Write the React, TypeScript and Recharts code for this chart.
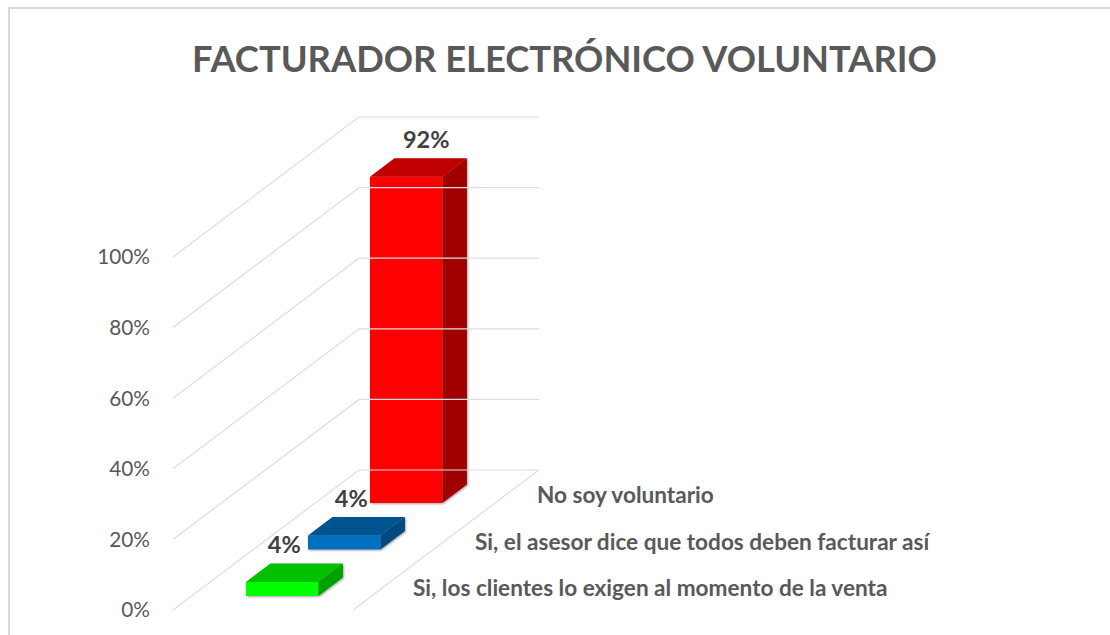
import React from "react";
import { BarChart, Bar, XAxis, YAxis, ReferenceLine, LabelList } from "recharts";

const chartTitle = "FACTURADOR ELECTRÓNICO VOLUNTARIO";
const categories = [
  "Si, los clientes lo exigen al momento de la venta",
  "Si, el asesor dice que todos deben facturar así",
  "No soy voluntario",
];
const percentValues = [4, 4, 92.4];
const yTicks = [0, 20, 40, 60, 80, 100];
const frontColors = ["#00ff00", "#0070c0", "#ff0000"];
const topColors = ["#00c000", "#005490", "#c00000"];
const sideColors = ["#00a000", "#004a80", "#a00000"];

const rows = categories.map((name, i) => ({ name, value: percentValues[i] }));

const FONT = "Lato, 'Open Sans', sans-serif";
const FRONT_W = 72.5;
const DEPTH_X = 24.5;
const DEPTH_Y = 18.5;
const FLOOR_BASE = 14;
const FLOOR_STEP = 46.5;
const WALL_X = 186;
const WALL_Y = 140;
const WALL_W = 180;
const LABEL_DX = [2, 7, 20];

function gridShape(props: any) {
  const x = props.x1;
  const y = props.y1;
  return (
    <polyline
      points={`${x},${y} ${x + WALL_X},${y - WALL_Y} ${x + WALL_X + WALL_W},${y - WALL_Y}`}
      fill="none"
      stroke="#dedede"
      strokeWidth={1.2}
    />
  );
}

function floorShape(props: any) {
  const x = props.x1;
  const y = props.y1;
  return (
    <line
      x1={x + WALL_W}
      y1={y}
      x2={x + WALL_W + WALL_X}
      y2={y - WALL_Y}
      stroke="#dedede"
      strokeWidth={1.2}
    />
  );
}

function barShape(props: any) {
  const { x, width, y, height, index } = props;
  const lift = FLOOR_BASE + index * FLOOR_STEP;
  const cx = x + width / 2;
  const l = cx - FRONT_W / 2;
  const r = cx + FRONT_W / 2;
  const t = y - lift;
  const b = y + height - lift;
  return (
    <g style={{ filter: "drop-shadow(1px 1px 1px rgba(0,0,0,0.35))" }}>
      <rect x={l} y={t} width={FRONT_W} height={b - t} fill={frontColors[index]} />
      <polygon
        points={`${l},${t} ${l + DEPTH_X},${t - DEPTH_Y} ${r + DEPTH_X},${t - DEPTH_Y} ${r},${t}`}
        fill={topColors[index]}
      />
      <polygon
        points={`${r},${t} ${r + DEPTH_X},${t - DEPTH_Y} ${r + DEPTH_X},${b - DEPTH_Y} ${r},${b}`}
        fill={sideColors[index]}
      />
    </g>
  );
}

function dataLabel(props: any) {
  const { x, width, y, index, value } = props;
  const lift = FLOOR_BASE + index * FLOOR_STEP;
  return (
    <text
      x={x + width / 2 + LABEL_DX[index]}
      y={y - lift - 28.5}
      textAnchor="middle"
      fontFamily={FONT}
      fontWeight={700}
      fontSize={23.5}
      fill="#404040"
    >
      {`${Math.round(value)}%`}
    </text>
  );
}

function categoryTick(props: any) {
  const { x, y, payload, index } = props;
  const i = index ?? payload.index;
  return (
    <text
      x={x + 131}
      y={y - 22 - i * FLOOR_STEP}
      fontFamily={FONT}
      fontWeight={700}
      fontSize={22.6}
      fill="#595959"
    >
      {payload.value}
    </text>
  );
}

export default function App() {
  return (
    <div
      style={{
        position: "absolute",
        left: 0,
        top: 0,
        width: 1110,
        height: 635,
        background: "#fff",
        overflow: "hidden",
      }}
    >
      <div
        style={{
          position: "absolute",
          left: 8,
          top: 7,
          width: 1140,
          height: 680,
          border: "2px solid #d9d9d9",
          boxSizing: "border-box",
        }}
      />
      <div
        style={{
          position: "absolute",
          left: 0,
          top: 35,
          width: 1129,
          textAlign: "center",
          fontFamily: FONT,
          fontWeight: 700,
          fontSize: 36.3,
          lineHeight: "46px",
          color: "#595959",
        }}
      >
        {chartTitle}
      </div>
      <div style={{ position: "absolute", left: 0, top: 0 }}>
        <BarChart
          width={1110}
          height={635}
          data={rows}
          margin={{ top: 257, right: 673, bottom: 0, left: 0 }}
          style={{ overflow: "visible" }}
        >
          <XAxis
            dataKey="name"
            type="category"
            height={25}
            padding={{ left: 78, right: 0 }}
            axisLine={false}
            tickLine={false}
            interval={0}
            tick={categoryTick}
          />
          <YAxis
            type="number"
            width={173}
            domain={[0, 100]}
            ticks={yTicks}
            tickFormatter={(v: number) => `${v}%`}
            axisLine={false}
            tickLine={false}
            tickSize={0}
            tickMargin={23}
            tick={{ fontFamily: FONT, fontSize: 20.8, fill: "#595959" }}
          />
          {yTicks.map((t) => (
            <ReferenceLine key={t} y={t} ifOverflow="visible" shape={gridShape} />
          ))}
          <ReferenceLine y={0} ifOverflow="visible" shape={floorShape} />
          <Bar dataKey="value" isAnimationActive={false} shape={barShape}>
            <LabelList dataKey="value" content={dataLabel} />
          </Bar>
        </BarChart>
      </div>
    </div>
  );
}
